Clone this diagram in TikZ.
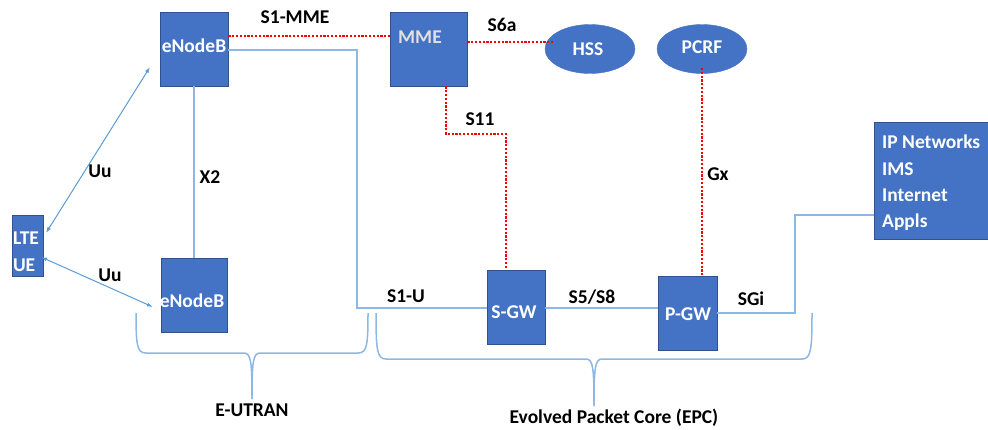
\documentclass[tikz,border=0pt]{standalone}
\usepackage{fontspec}
\setmainfont{Carlito}
\usetikzlibrary{shapes.geometric,arrows.meta}
\definecolor{boxblue}{HTML}{4472C4}
\definecolor{boxedge}{HTML}{2F528F}
\definecolor{linkblue}{HTML}{8DB8E6}
\definecolor{arrblue}{HTML}{5B9BD5}
\tikzset{
  box/.style={draw=boxedge, fill=boxblue, line width=0.8pt, inner sep=0pt},
  oval/.style={ellipse, draw=boxblue, fill=boxblue, inner sep=0pt, minimum width=90pt, minimum height=49pt},
  wtxt/.style={text=white, font=\fontsize{19.5}{22}\selectfont\bfseries, inner sep=0pt},
  lbl/.style={text=black, font=\fontsize{19.5}{22}\selectfont\bfseries, inner sep=0pt},
  redlink/.style={draw=red, line width=2.2pt, dash pattern=on 2.2pt off 1.6pt},
  bluelink/.style={draw=linkblue, line width=1.5pt},
  uu/.style={draw=arrblue, line width=1pt, {Latex[length=6pt,width=4pt]}-{Latex[length=6pt,width=4pt]}},
  bracelink/.style={draw=linkblue, line width=1.5pt}
}
\begin{document}
\begin{tikzpicture}[x=1pt,y=-1pt]
\useasboundingbox (0,0) rectangle (988,429);
% boxes
\node[box, minimum width=68pt, minimum height=74pt] (enb1) at (194,49) {};
\node[wtxt] (enb1t) at (194,46) {eNodeB};
\node[box, minimum width=77pt, minimum height=74pt] (mme) at (428.5,49) {};
\node[wtxt, text=black!12] (mmet) at (420,37) {MME};
\node[oval] (hss) at (590,49) {};
\node[wtxt] (hsst) at (588,49) {HSS};
\node[oval] (pcrf) at (702,49) {};
\node[wtxt] (pcrft) at (702,47) {PCRF};
\node[box, minimum width=66pt, minimum height=74pt] (enb2) at (194,295) {};
\node[wtxt] (enb2t) at (192,301) {eNodeB};
\node[box, minimum width=31pt, minimum height=61pt] (ue) at (27.5,245.5) {};
\node[wtxt, align=left, font=\fontsize{19.5}{27}\selectfont\bfseries] (uet) at (26,252) {LTE\\UE};
\node[box, minimum width=58pt, minimum height=74pt] (sgw) at (516,307) {};
\node[wtxt] (sgwt) at (514,312) {S-GW};
\node[box, minimum width=59pt, minimum height=74pt] (pgw) at (687.5,313) {};
\node[wtxt] (pgwt) at (688,314) {P-GW};
\node[box, minimum width=114pt, minimum height=117pt] (ipn) at (931,180.5) {};
\node[wtxt, align=left, anchor=north west, font=\fontsize{19.5}{26.3}\selectfont\bfseries] (ipnt) at (882,135) {IP Networks\\IMS\\Internet\\Appls};
% red interfaces
\draw[redlink] (enb1.east |- 0,36) -- (mme.west |- 0,36);
\draw[redlink] (mme.east |- 0,42) -- (553,42) coordinate (hssin);
\draw[redlink] (mme.south -| 446,0) -- (446,134) -- (506,134) -- (sgw.north -| 506,0);
\draw[redlink] (702,68) coordinate (pcrfout) -- (pgw.north -| 702,0);
% blue interfaces
\draw[bluelink] (enb1.east |- 0,50) -- (357,50) -- (357,308) -- (sgw.west |- 0,308);
\draw[bluelink] (enb1.south) -- (enb2.north);
\draw[bluelink] (sgw.east |- 0,308) -- (pgw.west |- 0,308);
\draw[bluelink] (pgw.east |- 0,313) -- (795,313) -- (795,215) -- (ipn.west |- 0,215);
% Uu
\coordinate (ua1) at (46,233);
\coordinate (ub1) at (150,67);
\coordinate (ua2) at (41,257);
\coordinate (ub2) at (153,307);
\draw[uu] (ua1) -- (ub1);
\draw[uu] (ua2) -- (ub2);
% labels
\node[lbl] (l1) at (295,17) {S1-MME};
\node[lbl] (l2) at (502,25) {S6a};
\node[lbl] (l3) at (480,119) {S11};
\node[lbl] (l4) at (718,174) {Gx};
\node[lbl] (l5) at (210,177) {X2};
\node[lbl] (l6) at (100,171) {Uu};
\node[lbl] (l7) at (110,275) {Uu};
\node[lbl] (l8) at (406,296) {S1-U};
\node[lbl] (l9) at (592,297) {S5/S8};
\node[lbl] (l10) at (751,299) {SGi};
% braces
\draw[bracelink] (136,313) .. controls (136,345) and (137,353) .. (146,353) -- (244,353) .. controls (251,353) and (252,362) .. (252,399);
\draw[bracelink] (368,313) .. controls (368,345) and (367,353) .. (358,353) -- (260,353) .. controls (253,353) and (252,362) .. (252,399);
\draw[bracelink] (376,313) .. controls (376,350) and (377,359) .. (386,359) -- (586,359) .. controls (593,359) and (594,368) .. (594,406);
\draw[bracelink] (812,313) .. controls (812,350) and (811,359) .. (802,359) -- (602,359) .. controls (595,359) and (594,368) .. (594,406);
\node[lbl] (eutran) at (252,410) {E-UTRAN};
\node[lbl] (epc) at (614,418) {Evolved Packet Core (EPC)};
\end{tikzpicture}
\end{document}
